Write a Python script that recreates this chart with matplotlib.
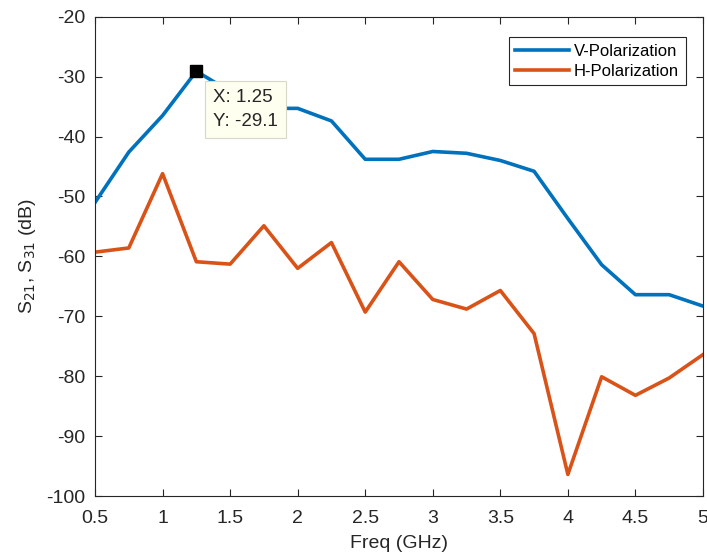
import numpy as np
import matplotlib
matplotlib.use("Agg")
import matplotlib.pyplot as plt

# frequency sweep (GHz) and measured coupling (dB)
freq = [0.5, 0.75, 1.0, 1.25, 1.5, 1.75, 2.0, 2.25, 2.5, 2.75,
        3.0, 3.25, 3.5, 3.75, 4.0, 4.25, 4.5, 4.75, 5.0]
v_pol = [-51.0, -42.6, -36.5, -29.1, -32.5, -35.3, -35.3, -37.4, -43.8, -43.8,
         -42.5, -42.8, -44.0, -45.8, -53.7, -61.4, -66.4, -66.4, -68.3]
h_pol = [-59.3, -58.6, -46.2, -60.9, -61.3, -54.9, -62.0, -57.7, -69.3, -60.9,
         -67.2, -68.8, -65.7, -72.9, -96.4, -80.1, -83.2, -80.3, -76.4]
labels = ["V-Polarization", "H-Polarization"]
tip_x, tip_y = 1.25, -29.1

plt.rcParams["font.family"] = ["Liberation Sans", "DejaVu Sans"]
plt.rcParams["axes.unicode_minus"] = False

fig = plt.figure(figsize=(7.07, 5.58), dpi=100)
ax = fig.add_axes([0.1344, 0.1111, 0.8599, 0.8590])

ax.plot(freq, v_pol, color="#0072BD", lw=2.6, label=labels[0])
ax.plot(freq, h_pol, color="#D95319", lw=2.6, label=labels[1])

# data tip
ax.plot([tip_x], [tip_y], marker="s", ms=9, color="black", zorder=5)
ax.annotate(f"X: {tip_x:g}\nY: {tip_y:g}", xy=(tip_x, tip_y), xytext=(12, -13),
            textcoords="offset points", ha="left", va="top", fontsize=13.5,
            linespacing=1.55, color="#262626",
            bbox=dict(boxstyle="square,pad=0.42", fc="#fffff0", ec="#d8d8c8", lw=0.8),
            zorder=6)

ax.set_xlim(0.5, 5)
ax.set_ylim(-100, -20)
ax.set_xticks(np.arange(0.5, 5.01, 0.5))
ax.set_xticklabels(["0.5", "1", "1.5", "2", "2.5", "3", "3.5", "4", "4.5", "5"])
ax.set_yticks(np.arange(-100, -19, 10))
ax.tick_params(direction="in", top=True, right=True, length=5, width=0.8,
               labelsize=14, colors="#262626")
ax.tick_params(axis="y", pad=7)
ax.tick_params(axis="x", pad=10)
for sp in ax.spines.values():
    sp.set_color("#262626")
    sp.set_linewidth(0.8)

ax.set_xlabel("Freq (GHz)", fontsize=14, color="#262626", labelpad=6)
ax.set_ylabel(r"S$_{21}$, S$_{31}$ (dB)", fontsize=14, color="#262626", labelpad=6)

leg = ax.legend(loc="upper right", fontsize=12, handlelength=3.2, borderpad=0.4,
                labelspacing=0.3, handletextpad=0.3, fancybox=False,
                framealpha=1, edgecolor="#262626", bbox_to_anchor=(0.985, 0.975))
leg.get_frame().set_linewidth(0.8)

fig.savefig("out.png", dpi=100)
